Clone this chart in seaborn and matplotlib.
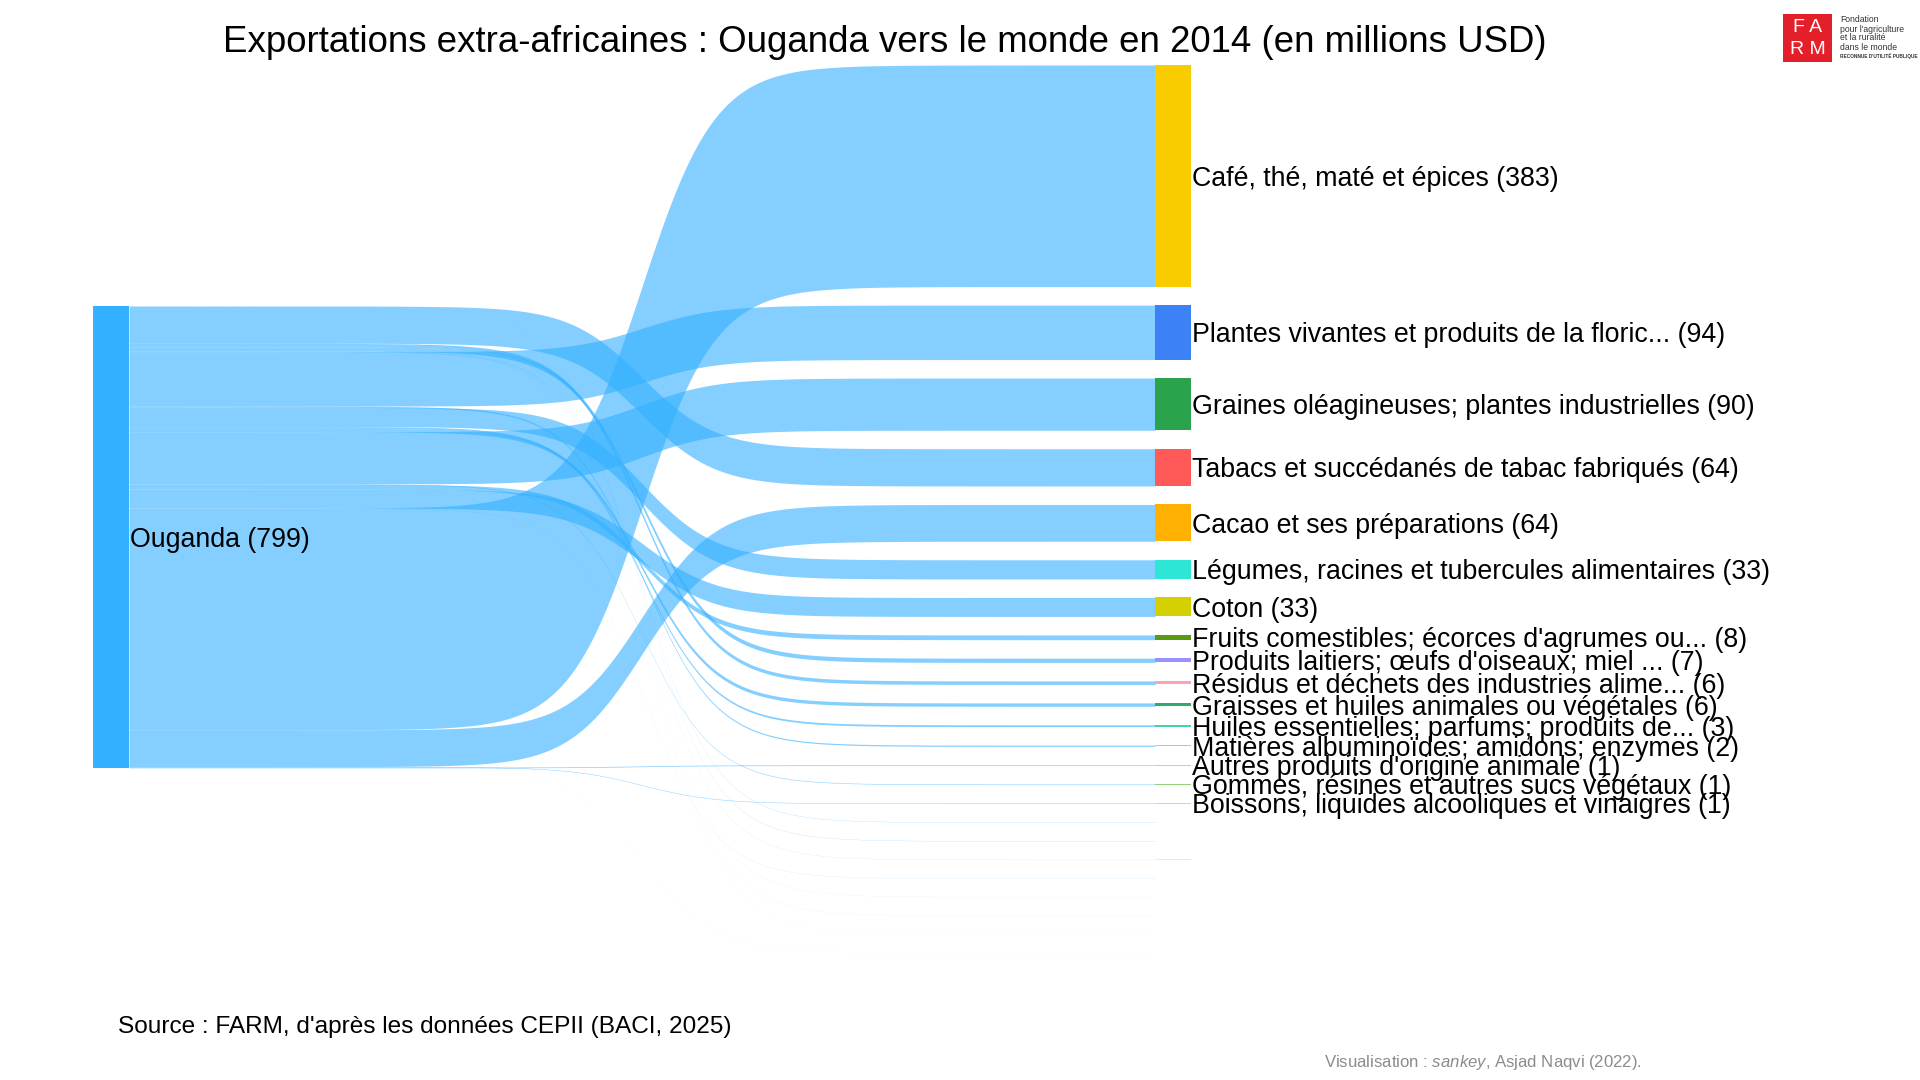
import unicodedata
import numpy as np
import matplotlib.pyplot as plt
import seaborn as sns

# ---- data (millions USD, 2014) ----
source_name = "Ouganda"
products = [
    "Café, thé, maté et épices",
    "Plantes vivantes et produits de la floric...",
    "Graines oléagineuses; plantes industrielles",
    "Tabacs et succédanés de tabac fabriqués",
    "Cacao et ses préparations",
    "Légumes, racines et tubercules alimentaires",
    "Coton",
    "Fruits comestibles; écorces d'agrumes ou...",
    "Produits laitiers; œufs d'oiseaux; miel ...",
    "Résidus et déchets des industries alime...",
    "Graisses et huiles animales ou végétales",
    "Huiles essentielles; parfums; produits de...",
    "Matières albuminoïdes; amidons; enzymes",
    "Autres produits d'origine animale",
    "Gommes, résines et autres sucs végétaux",
    "Boissons, liquides alcooliques et vinaigres",
    "Préparations de légumes ou de fruits",
    "Sucres et sucreries",
    "Préparations à base de céréales",
    "Céréales",
    "Produits de la minoterie",
    "Préparations alimentaires diverses",
    "Viandes et abats comestibles",
    "Animaux vivants",
]
values = [383.4, 94.2, 90.3, 64.4, 63.7, 33.2, 32.8, 8.2, 7.3, 6.1, 5.8, 3.2,
          2.1, 1.2, 0.9, 0.8, 0.4, 0.3, 0.2, 0.2, 0.1, 0.1, 0.05, 0.05]
node_colors = ["#f9cc00", "#3c82f6", "#2ba24c", "#ff5a57", "#ffb000", "#2ee6d6",
               "#d4cf00", "#5a9a10", "#9a91ff", "#ffa0b4", "#2eaa6a", "#40d4a8",
               "#70e0f4", "#ffb88a", "#94d07a", "#ffc88a", "#d6ecff", "#c4dcff",
               "#eef2b0", "#ffd0d0", "#dde8ff", "#e2e0ff", "#d0f4ee", "#d4dcff"]

title = "Exportations extra-africaines : Ouganda vers le monde en 2014 (en millions USD)"
source_txt = "Source : FARM, d'après les données CEPII (BACI, 2025)"
credit_txt = r"Visualisation : $\mathit{sankey}$, Asjad Naqvi (2022)."

sns.set_theme(style="white")
plt.rcParams['font.family'] = ['Liberation Sans', 'DejaVu Sans']
plt.rcParams['mathtext.fontset'] = 'custom'
plt.rcParams['mathtext.rm'] = 'Liberation Sans'
plt.rcParams['mathtext.it'] = 'Liberation Sans:italic'

W, H = 1920, 1080
fig = plt.figure(figsize=(19.2, 10.8), dpi=100)
ax = fig.add_axes([0, 0, 1, 1])
ax.set_xlim(0, W)
ax.set_ylim(H, 0)
ax.axis('off')

# layout
scale = 0.578      # px per million
gap = 18.5
right_top = 65
left_top = 306
xl0, xl1 = 93, 129
xr0, xr1 = 1155, 1191
flow_col = "#33b0ff"

vals = np.array(values)
n = len(vals)
total = vals.sum()

# right side: stacked in order of value
r_top = right_top + np.concatenate([[0], np.cumsum(vals[:-1] * scale + gap)])
r_h = vals * scale

# left side: reverse alphabetical from the top
def sort_key(s):
    return unicodedata.normalize('NFKD', s).encode('ascii', 'ignore').decode().lower()

left_order = sorted(range(n), key=lambda i: sort_key(products[i]), reverse=True)
l_top = np.zeros(n)
y = left_top
for i in left_order:
    l_top[i] = y
    y += vals[i] * scale

# flows
x = np.linspace(xl1, xr0, 400)
t = (x - xl1) / (xr0 - xl1)
s = 1 / (1 + np.exp(-28 * (t - 0.5)))
s = (s - s[0]) / (s[-1] - s[0])
for i in range(n):
    top = l_top[i] + (r_top[i] - l_top[i]) * s
    ax.fill_between(x, top, top + vals[i] * scale, color=flow_col, alpha=0.6, lw=0)

# nodes
ax.bar((xl0 + xl1) / 2, total * scale, bottom=left_top, width=xl1 - xl0,
       color=flow_col, linewidth=0)
ax.bar(np.full(n, (xr0 + xr1) / 2), r_h, bottom=r_top, width=xr1 - xr0,
       color=node_colors, linewidth=0)

# labels
ax.text(xl1 + 1, left_top + total * scale / 2 + 3, f"{source_name} ({total:.0f})",
        ha='left', va='center', fontsize=19.3, color='black')
for i in range(n):
    if round(vals[i]) >= 1:
        ax.text(xr1 + 1, r_top[i] + r_h[i] / 2 + 3, f"{products[i]} ({vals[i]:.0f})",
                ha='left', va='center', fontsize=19.3, color='black')

ax.text(885, 43, title, ha='center', va='center', fontsize=26.4, color='black')
ax.text(118, 1027, source_txt, ha='left', va='center', fontsize=17.6, color='black')
ax.text(1324, 1062, credit_txt, ha='left', va='center', fontsize=12.1, color='#8c8c8c')

# FARM logo
ax.add_patch(plt.Rectangle((1783, 14), 49, 48, color='#e3202a', lw=0))
ax.text(1807.5, 27, "F A", ha='center', va='center', fontsize=14, color='white')
ax.text(1807.5, 49, "R M", ha='center', va='center', fontsize=14, color='white')
for k, line in enumerate(["Fondation", "pour l'agriculture", "et la ruralité", "dans le monde"]):
    ax.text(1840, 20 + 9 * k, line, ha='left', va='center', fontsize=6.2, color='#333333')
ax.text(1840, 56, "RECONNUE D'UTILITÉ PUBLIQUE", ha='left', va='center', fontsize=3.4,
        color='#333333', fontweight='bold')

fig.savefig("out.png", dpi=100)
